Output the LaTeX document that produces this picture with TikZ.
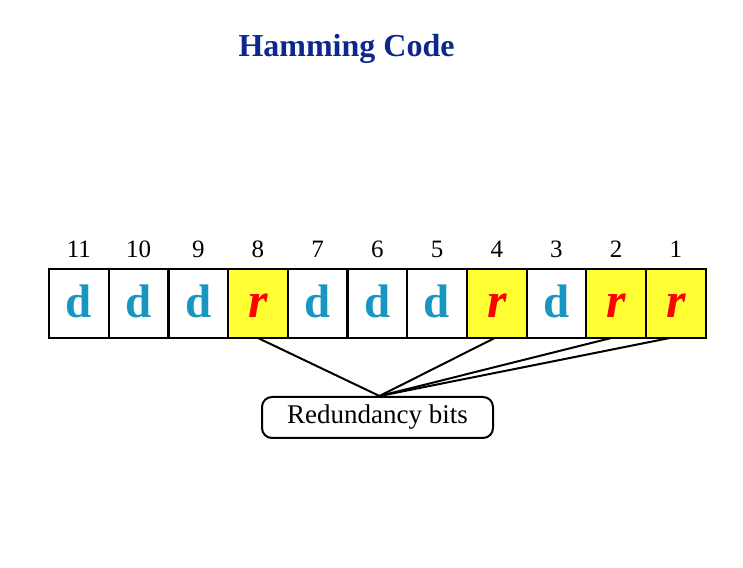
\documentclass[tikz,border=0pt]{standalone}
\usepackage{fontspec}
\setmainfont{Liberation Serif}
\usetikzlibrary{positioning}
\definecolor{titleblue}{RGB}{12,40,140}
\definecolor{dblue}{RGB}{22,150,192}
\definecolor{ryellow}{RGB}{255,255,51}
\begin{document}
\begin{tikzpicture}[x=1pt,y=1pt,
    cell/.style={draw,line width=2.2pt,minimum width=59.7pt,minimum height=69pt,
      inner sep=0pt,outer sep=0pt,text height=31pt,text depth=2pt},
    dcell/.style={cell,fill=white,text=dblue,font=\fontsize{47}{47}\selectfont\bfseries},
    rcell/.style={cell,fill=ryellow,text=red,font=\fontsize{50}{50}\selectfont\bfseries\itshape},
    num/.style={font=\fontsize{25}{25}\selectfont},
    link/.style={line width=2pt}]
        \path[fill=white,use as bounding box] (0,0) rectangle (743,567);

        %%%%%%%%%% Titolo %%%%%%%%%%
        \node (title) at (346.5,510) [anchor=base,text=titleblue,font=\fontsize{32}{32}\selectfont\bfseries] {Hamming Code};

        %%%%%%%%%% Celle %%%%%%%%%%
        \node (b11) at (78.85,263.5) [dcell] {d};
        \node (b10) [dcell,right=0pt of b11] {d};
        \node (b9) [dcell,right=0pt of b10] {d};
        \node (b8) [rcell,right=0pt of b9] {r};
        \node (b7) [dcell,right=0pt of b8] {d};
        \node (b6) [dcell,right=0pt of b7] {d};
        \node (b5) [dcell,right=0pt of b6] {d};
        \node (b4) [rcell,right=0pt of b5] {r};
        \node (b3) [dcell,right=0pt of b4] {d};
        \node (b2) [rcell,right=0pt of b3] {r};
        \node (b1) [rcell,right=0pt of b2] {r};

        %%%%%%%%%% Posizioni %%%%%%%%%%
        \node (n11) at ([yshift=20pt]b11.north) [num] {11};
        \node (n10) at ([yshift=20pt]b10.north) [num] {10};
        \node (n9) at ([yshift=20pt]b9.north) [num] {9};
        \node (n8) at ([yshift=20pt]b8.north) [num] {8};
        \node (n7) at ([yshift=20pt]b7.north) [num] {7};
        \node (n6) at ([yshift=20pt]b6.north) [num] {6};
        \node (n5) at ([yshift=20pt]b5.north) [num] {5};
        \node (n4) at ([yshift=20pt]b4.north) [num] {4};
        \node (n3) at ([yshift=20pt]b3.north) [num] {3};
        \node (n2) at ([yshift=20pt]b2.north) [num] {2};
        \node (n1) at ([yshift=20pt]b1.north) [num] {1};

        %%%%%%%%%% Riquadro %%%%%%%%%%
        \node (rb) at (377.5,149.5) [draw,line width=2pt,rounded corners=10pt,minimum width=231pt,minimum height=41pt,font=\fontsize{27}{27}\selectfont] {Redundancy bits};

        %%%%%%%%% Linee %%%%%%%%%
        \draw[link] (b8.south) -- ([xshift=2pt]rb.north);
        \draw[link] ([xshift=-2pt]b4.south) -- ([xshift=2pt]rb.north);
        \draw[link] ([xshift=-5pt]b2.south) -- ([xshift=2pt]rb.north);
        \draw[link] ([xshift=-6pt]b1.south) -- ([xshift=2pt]rb.north);
    \end{tikzpicture}
\end{document}
